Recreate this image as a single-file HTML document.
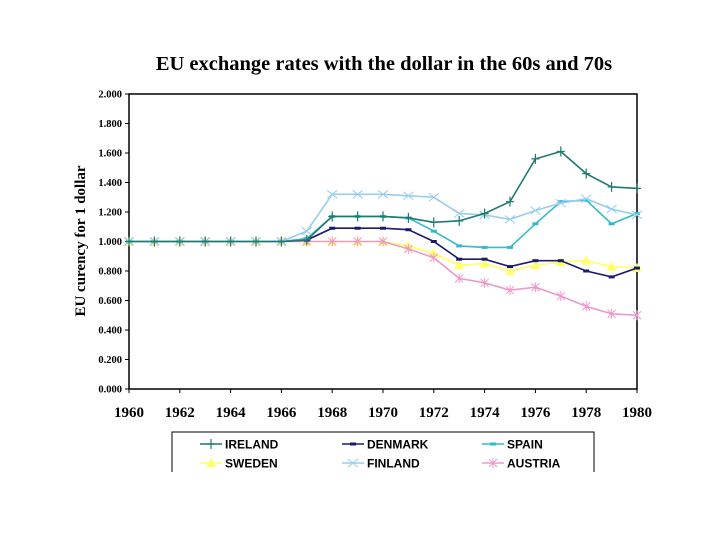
<!DOCTYPE html>
<html><head><meta charset="utf-8"><style>
body{margin:0;background:#fff;width:720px;height:540px;overflow:hidden}
svg text{font-family:"Liberation Serif",serif;font-weight:bold}
svg text.sans{font-family:"Liberation Sans",sans-serif}
</style></head><body>
<svg id="chart" width="720" height="540">
<text x="384" y="70" font-size="20.5" text-anchor="middle">EU exchange rates with the dollar in the 60s and 70s</text>
<text transform="translate(85,241) rotate(-90)" font-size="15" text-anchor="middle">EU curency for 1 dollar</text>
<rect x="129" y="94" width="508" height="295" fill="none" stroke="#000" stroke-width="1.5"/>
<g id="axes"></g><g id="series"></g>
<g>
<path d="M172 472V432H594V472" fill="none" stroke="#000"/>
</g>
<g id="legend"></g>
</svg>
<script>
const years=[1960,1961,1962,1963,1964,1965,1966,1967,1968,1969,1970,1971,1972,1973,1974,1975,1976,1977,1978,1979,1980];
const yTicks=[0,0.2,0.4,0.6,0.8,1.0,1.2,1.4,1.6,1.8,2.0];
const xTicks=[1960,1962,1964,1966,1968,1970,1972,1974,1976,1978,1980];
const ireland=[1,1,1,1,1,1,1,1.01,1.17,1.17,1.17,1.16,1.13,1.14,1.19,1.27,1.56,1.61,1.46,1.37,1.36];
const denmark=[1,1,1,1,1,1,1,1.01,1.09,1.09,1.09,1.08,1.0,0.88,0.88,0.83,0.87,0.87,0.80,0.76,0.82];
const spain=[1,1,1,1,1,1,1,1.02,1.17,1.17,1.17,1.16,1.07,0.97,0.96,0.96,1.12,1.27,1.28,1.12,1.19];
const sweden=[1,1,1,1,1,1,1,1,1,1,1,0.97,0.92,0.84,0.85,0.80,0.84,0.86,0.87,0.83,0.82];
const finland=[1,1,1,1,1,1,1,1.07,1.32,1.32,1.32,1.31,1.30,1.19,1.18,1.15,1.21,1.26,1.29,1.22,1.18];
const austria=[1,1,1,1,1,1,1,1,1,1,1,0.95,0.89,0.75,0.72,0.67,0.69,0.63,0.56,0.51,0.50];
const seriesNames=["IRELAND","DENMARK","SPAIN","SWEDEN","FINLAND","AUSTRIA"];
const seriesData=[ireland,denmark,spain,sweden,finland,austria];
const colors=["#1f7a6e","#1a1a6e","#33bbcc","#ffff66","#99ccee","#ee99cc"];
const markers=["plus","dash","dash","tri","x","star"];
const NS="http://www.w3.org/2000/svg";
const X=v=>129+(v-1960)*(508/20), Y=v=>389-v*147.5;
function mk(t,a,p){const e=document.createElementNS(NS,t);for(const k in a)e.setAttribute(k,a[k]);p.appendChild(e);return e;}
const ax=document.getElementById('axes');
yTicks.forEach(t=>{
 mk('line',{x1:125,x2:129,y1:Y(t),y2:Y(t),stroke:'#000','stroke-width':1},ax);
 const e=mk('text',{x:122,y:Y(t)+3.5,'font-size':10.5,'text-anchor':'end'},ax);e.textContent=t.toFixed(3);

});
xTicks.forEach(t=>{
 mk('line',{x1:X(t),x2:X(t),y1:389,y2:393,stroke:'#000','stroke-width':1},ax);
 const e=mk('text',{x:X(t),y:417,'font-size':15,'text-anchor':'middle'},ax);e.textContent=t;

});
function marker(kind,x,y,c,g){
 if(kind=="plus")mk('path',{d:`M${x-4} ${y}H${x+4}M${x} ${y-5}V${y+5}`,stroke:c,'stroke-width':1.2},g);
 else if(kind=="dash")mk('rect',{x:x-3,y:y-1.5,width:6,height:3,fill:c},g);
 else if(kind=="tri")mk('path',{d:`M${x} ${y-5}L${x+5} ${y+4}L${x-5} ${y+4}Z`,fill:c},g);
 else if(kind=="x")mk('path',{d:`M${x-5} ${y-4}L${x+5} ${y+4}M${x-5} ${y+4}L${x+5} ${y-4}`,stroke:c,'stroke-width':1},g);
 else mk('path',{d:`M${x-4} ${y-4}L${x+4} ${y+4}M${x-4} ${y+4}L${x+4} ${y-4}M${x} ${y-5}V${y+5}`,stroke:c,'stroke-width':1},g);
}
const sg=document.getElementById('series');
[3,5,1,2,4,0].forEach(i=>{
 const g=mk('g',{},sg);
 
 
 mk('polyline',{points:seriesData[i].map((v,j)=>X(years[j])+','+Y(v)).join(' '),fill:'none',stroke:colors[i],'stroke-width':1.6},g);
 seriesData[i].forEach((v,j)=>marker(markers[i],X(years[j]),Y(v),colors[i],g));
});
const lg=document.getElementById('legend');
seriesNames.forEach((n,i)=>{
 const lx=[200,342,482][i%3], ly=i<3?444:463;
 const g=mk('g',{},lg);
 
 
 mk('line',{x1:lx,y1:ly,x2:lx+22,y2:ly,stroke:colors[i],'stroke-width':1.5},g);
 marker(markers[i],lx+11,ly,colors[i],g);
 const t=mk('text',{x:lx+25,y:ly+4.5,'font-size':12,'class':'sans'},g);t.textContent=n;
});
</script>
</body></html>
